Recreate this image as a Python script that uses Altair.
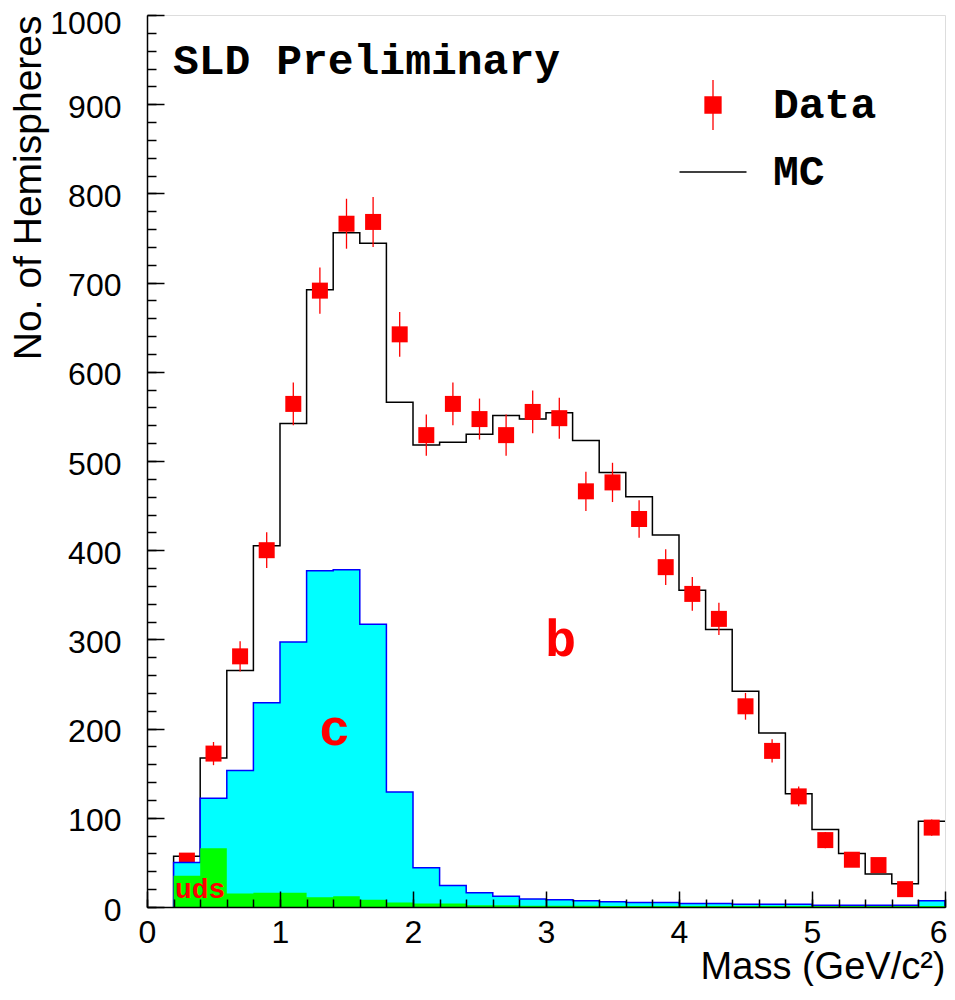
import altair as alt
import pandas as pd

# ---------------- data ----------------
bin_lo = [0.2, 0.4, 0.6, 0.8, 1.0, 1.2, 1.4, 1.6, 1.8, 2.0, 2.2, 2.4, 2.6, 2.8, 3.0,
          3.2, 3.4, 3.6, 3.8, 4.0, 4.2, 4.4, 4.6, 4.8, 5.0, 5.2, 5.4, 5.6, 5.8]
x_end = 6.0

# MC total (b + c + uds)
mc_counts = [57, 167, 265, 405, 542, 692, 756, 744, 566, 518, 521, 530, 551, 547, 554,
             523, 487, 460, 417, 355, 311, 242, 195, 127, 87, 60, 37, 26, 96]
# c + uds (cyan)
c_counts = [50, 122, 153, 229, 297, 377, 378, 317, 129, 44, 24, 16, 12, 9, 8,
            7, 6, 5, 5, 4, 4, 3, 3, 3, 2, 2, 2, 2, 7]
# uds (green)
uds_counts = [35, 66, 15, 16, 16, 11, 12, 8, 5, 4, 4, 2, 2, 1.5, 1.5,
              1.5, 1, 1, 1, 1, 1, 1, 1, 1, 1, 1, 1, 1, 1]

data_x = [0.3, 0.5, 0.7, 0.9, 1.1, 1.3, 1.5, 1.7, 1.9, 2.1, 2.3, 2.5, 2.7, 2.9, 3.1,
          3.3, 3.5, 3.7, 3.9, 4.1, 4.3, 4.5, 4.7, 4.9, 5.1, 5.3, 5.5, 5.7, 5.9]
data_counts = [52, 172, 281, 400, 564, 691, 766, 768, 642, 529, 564, 547, 529, 555, 548,
               466, 476, 435, 381, 351, 323, 225, 175, 124, 75, 53, 47, 20, 89]
data_errors = [7, 13, 17, 20, 24, 26, 28, 28, 25, 23, 24, 23, 23, 24, 23,
               22, 22, 21, 20, 19, 18, 15, 13, 11, 9, 7, 7, 4, 9]

y_major = [0, 100, 200, 300, 400, 500, 600, 700, 800, 900, 1000]
y_minor = list(range(0, 1001, 20))
x_major = [0, 1, 2, 3, 4, 5, 6]
x_minor = [round(0.2 * i, 1) for i in range(31)]

series_names = ["Data", "MC"]

# annotation texts (data coordinates)
ann_title = {"t": ["SLD Preliminary"], "x": [0.195], "y": [934]}
ann_big = {"t": ["b", "c"], "x": [3.11, 1.41], "y": [281, 182]}
ann_small = {"t": ["uds"], "x": [0.21], "y": [10]}

# ---------------- build tables ----------------
edges = bin_lo + [x_end]


def step_table(vals, lead_zero=False):
    xx = list(edges)
    yy = list(vals) + [vals[-1]]
    if lead_zero:
        xx = [edges[0]] + xx
        yy = [0] + yy
    return pd.DataFrame({"m": xx, "n": yy, "o": list(range(len(xx)))})


mc_df = step_table(mc_counts, lead_zero=True)
c_df = step_table(c_counts)
uds_df = step_table(uds_counts)
data_df = pd.DataFrame({
    "dx": data_x,
    "dy": data_counts,
    "lo": [v - e for v, e in zip(data_counts, data_errors)],
    "hi": [v + e for v, e in zip(data_counts, data_errors)],
})

SANS = "Liberation Sans"
MONO = "Liberation Mono"

xs = alt.Scale(domain=[0, 6], nice=False, zero=False)
ys = alt.Scale(domain=[0, 1000], nice=False, zero=False)

# ---------------- axes ----------------
x_lab_axis = alt.Axis(orient="bottom", values=x_major, format="d", ticks=False,
                      domain=True, domainColor="black", domainWidth=1.5, grid=False,
                      labelFont=SANS, labelFontSize=32, labelColor="black",
                      labelPadding=10, labelFlush=False, labelOverlap=False,
                      labelAlign={"condition": {"test": "datum.value == 6", "value": "right"},
                                  "value": "center"},
                      labelOffset={"condition": {"test": "datum.value == 6", "value": 2},
                                   "value": 0},
                      title="Mass (GeV/c²)", titleFont=SANS, titleFontSize=38,
                      titleFontWeight="normal", titleColor="black", titleAnchor="end",
                      titleBaseline="alphabetic", titlePadding=30, zindex=2)
x_maj_axis = alt.Axis(orient="bottom", values=x_major, labels=False, domain=False,
                      grid=False, ticks=True, tickSize=16, tickColor="black",
                      tickWidth=1.5, offset=-16, title=None, zindex=2)
x_min_axis = alt.Axis(orient="bottom", values=x_minor, labels=False, domain=False,
                      grid=False, ticks=True, tickSize=8, tickColor="black",
                      tickWidth=1.5, offset=-8, title=None, zindex=2)

y_lab_axis = alt.Axis(orient="left", values=y_major, format="d", ticks=False, domain=True,
                      domainColor="black", domainWidth=1.5, grid=False,
                      labelFont=SANS, labelFontSize=32, labelColor="black",
                      labelPadding=26, labelOverlap=False,
                      labelOffset={"condition": {"test": "datum.value == 1000", "value": 8},
                                   "value": 3},
                      title="No. of Hemispheres", titleFont=SANS, titleFontSize=39,
                      titleFontWeight="normal", titleColor="black", titleAnchor="end",
                      titlePadding=1, zindex=2)
y_maj_axis = alt.Axis(orient="left", values=y_major, labels=False, domain=False,
                      grid=False, ticks=True, tickSize=17, tickColor="black",
                      tickWidth=1.5, offset=-17, title=None, zindex=2)
y_min_axis = alt.Axis(orient="left", values=y_minor, labels=False, domain=False,
                      grid=False, ticks=True, tickSize=9, tickColor="black",
                      tickWidth=1.5, offset=-9, title=None, zindex=2)

# ---------------- layers ----------------
mc_line = alt.Chart(mc_df).mark_line(interpolate="step-after", color="#000000",
                                     strokeWidth=1.5).encode(
    x=alt.X("m:Q", scale=xs, axis=x_lab_axis),
    y=alt.Y("n:Q", scale=ys, axis=y_lab_axis),
    order="o:Q",
)

err = alt.Chart(data_df).mark_rule(color="#ff0000", strokeWidth=1.3).encode(
    x=alt.X("dx:Q", scale=xs, axis=x_maj_axis),
    y=alt.Y("lo:Q", scale=ys, axis=y_maj_axis),
    y2="hi:Q",
)

squares = alt.Chart(data_df).mark_square(size=256, color="#ff0000", filled=True,
                                         opacity=1).encode(
    x=alt.X("dx:Q", scale=xs, axis=x_min_axis),
    y=alt.Y("dy:Q", scale=ys, axis=y_min_axis),
)

c_area = alt.Chart(c_df).mark_area(interpolate="step-after", fill="#00ffff",
                                   stroke="#0000ff", strokeWidth=1.5,
                                   opacity=1).encode(
    x=alt.X("m:Q", scale=xs, axis=None),
    y=alt.Y("n:Q", scale=ys, axis=None),
)

uds_area = alt.Chart(uds_df).mark_area(interpolate="step-after", fill="#00ff00",
                                       opacity=1).encode(
    x=alt.X("m:Q", scale=xs, axis=None),
    y=alt.Y("n:Q", scale=ys, axis=None),
)

title_txt = alt.Chart(pd.DataFrame(ann_title)).mark_text(
    font=MONO, fontWeight="bold", fontSize=43, color="black", align="left",
    baseline="alphabetic").encode(
    x=alt.X("x:Q", scale=xs, axis=None), y=alt.Y("y:Q", scale=ys, axis=None),
    text="t:N")

big_txt = alt.Chart(pd.DataFrame(ann_big)).mark_text(
    font=MONO, fontWeight="bold", fontSize=52, color="#ff0000", align="center",
    baseline="alphabetic").encode(
    x=alt.X("x:Q", scale=xs, axis=None), y=alt.Y("y:Q", scale=ys, axis=None),
    text="t:N")

small_txt = alt.Chart(pd.DataFrame(ann_small)).mark_text(
    font=MONO, fontWeight="bold", fontSize=28, color="#ff0000", align="left",
    baseline="alphabetic").encode(
    x=alt.X("x:Q", scale=xs, axis=None), y=alt.Y("y:Q", scale=ys, axis=None),
    text="t:N")

# legend (Vega-Lite legend with custom symbols)
data_sym = "M-0.32,-0.32H0.32V0.32H-0.32Z M0,-1V-0.32 M0,0.32V1"
mc_sym = "M-1.34,0H1.34"
leg = alt.Legend(orient="none", legendX=540, legendY=64, title=None,
                 labelFont=MONO, labelFontWeight="bold", labelFontSize=43,
                 labelColor="black", symbolSize=2500, symbolStrokeWidth=1.3,
                 labelOffset=34, rowPadding=13, padding=0, symbolOpacity=1)
legend_layer = alt.Chart(pd.DataFrame({"s": series_names})).mark_point(
    filled=True, opacity=0, size=2500).encode(
    shape=alt.Shape("s:N", scale=alt.Scale(domain=series_names,
                                           range=[data_sym, mc_sym]), legend=leg),
    fill=alt.Fill("s:N", scale=alt.Scale(domain=series_names,
                                         range=["#ff0000", "transparent"]), legend=leg),
    stroke=alt.Stroke("s:N", scale=alt.Scale(domain=series_names,
                                             range=["#ff0000", "#000000"]), legend=leg),
)

chart = alt.layer(
    mc_line, err, squares, c_area, uds_area, title_txt, big_txt, small_txt, legend_layer
).resolve_axis(
    x="independent", y="independent"
).properties(
    width=798, height=892,
    autosize=alt.AutoSizeParams(type="none"),
    padding={"left": 139, "top": 7, "right": 2, "bottom": 79},
).configure_view(
    stroke="black", strokeWidth=1.5
).configure(background="white")

chart.save("out.html", embed_options={"renderer": "svg", "actions": False})
